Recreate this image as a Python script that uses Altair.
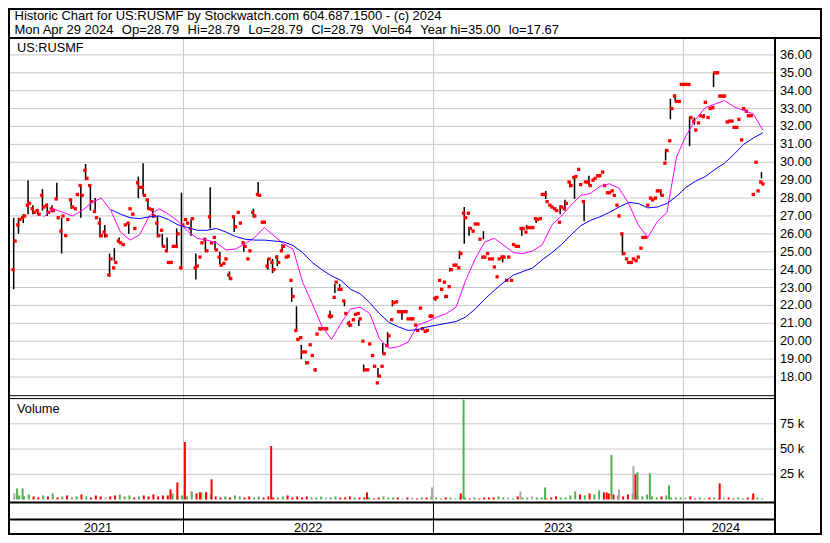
import altair as alt
import pandas as pd

# ---------------- data ----------------
START = pd.Timestamp("2021-04-30")  # first weekly bucket

# weekly high/low of the visible black range bars (None = no visible bar)
week_lo = [22.9, 26.0, 26.6, 27.1, 27.1, 27.1, 27.3, 27.0, 27.2, 27.9,
           24.9, None, 27.4, None, 26.9, 29.0, 27.3, 27.25, 25.8, 25.8,
           23.6, 24.5, 25.5, None, 26.0, None, 28.0, 28.15, 27.35, 26.9,
           25.8, 25.3, 25.1, None, 25.2, 24.0, None, 25.9, 23.45, None,
           25.0, 26.3, 25.1, 24.3, None, 23.45, 26.1, None, 25.0, None,
           26.9, 28.1, None, 24.0, 23.8, 24.2, 25.0, None, 22.2, 20.55,
           19.0, 18.7, None, 18.3, 20.6, None, 21.25, 22.7, 22.9, 21.95,
           20.8, None, 20.85, 18.3, None, None, 18.0, 19.3, 19.7, 21.95,
           None, 21.2, None, None, 20.6, None, None, 21.3, 22.25, None,
           22.4, 23.9, None, 24.6, 25.45, 25.9, None, None, 25.7, None,
           None, None, 24.4, None, None, None, 25.9, 26.25, None, 26.6,
           None, 27.95, None, None, 27.1, 27.3, 28.6, 27.95, None, 26.7,
           28.7, None, None, None, None, None, None, 24.8, None, None,
           None, None, None, None, None, 28.15, 30.1, 32.4, 33.4, None,
           None, 30.9, 32.1, None, 32.55, None, 34.2, None, None, None,
           None, None, None, None, None, 29.95, 29.1]
week_hi = [26.9, 26.9, 27.1, 29.0, 27.6, 27.4, 28.5, 27.7, 27.6, 28.85,
           26.9, None, 27.9, None, 28.75, 29.9, 28.7, 28.0, 26.9, 26.5,
           24.9, 25.2, 25.8, None, 26.6, None, 29.2, 29.95, 27.9, 27.4,
           27.0, 26.0, 25.8, None, 26.3, 28.3, None, 26.8, 24.9, None,
           25.7, 28.6, 25.6, 25.0, None, 23.9, 26.9, None, 25.5, None,
           27.4, 28.9, None, 24.6, 24.6, 24.8, 25.4, None, 23.0, 21.95,
           19.8, 18.9, None, 18.5, 20.8, None, 21.7, 23.2, 23.2, 22.3,
           21.15, None, 21.2, 18.7, None, None, 18.5, 19.9, 20.5, 22.3,
           None, 21.7, None, None, 20.7, None, None, 21.5, 22.5, None,
           22.6, 24.1, None, 25.05, 27.5, 26.4, None, None, 26.15, None,
           None, None, 24.8, None, None, None, 26.3, 26.5, None, 26.85,
           None, 28.4, None, None, 27.6, 27.9, 28.95, 29.1, None, 27.9,
           29.25, None, None, None, None, None, None, 26.0, None, None,
           None, None, None, None, None, 28.4, 30.75, 33.55, 33.8, None,
           None, 32.55, 32.5, None, 32.7, None, 35.0, None, None, None,
           None, None, None, None, None, 30.05, 29.45]
# two closing prices per week (mid-week, end of week)
close_a = [24.0, 26.5, 26.9, 27.6, 27.4, 27.3, 28.15, 27.6, 27.4, 27.95,
           26.15, 25.9, 27.9, 27.4, 28.7, 29.55, 28.7, 27.25, 26.6, 26.1,
           23.7, 24.1, 25.6, 25.4, 26.6, 27.1, 28.85, 28.6, 27.9, 27.35,
           26.6, 26.2, 25.05, 24.4, 25.3, 24.1, 26.8, 26.3, 24.1, 24.7,
           25.7, 26.95, 25.8, 24.7, 24.35, 23.7, 26.95, 27.2, 25.5, 24.6,
           27.2, 28.2, 26.65, 24.2, 24.4, 24.7, 25.05, 24.7, 23.4, 20.6,
           20.2, 19.4, 19.8, 18.4, 20.7, 20.7, 21.4, 22.45, 22.9, 22.25,
           21.0, 21.2, 21.55, 20.0, 18.4, 19.2, 17.67, 18.6, 19.75, 21.2,
           22.2, 21.65, 21.65, 21.25, 20.9, 21.85, 20.55, 21.4, 22.4, 23.4,
           23.3, 23.05, 24.25, 24.1, 27.15, 27.15, 26.15, 26.55, 24.7, 24.9,
           24.6, 23.6, 24.7, 23.4, 23.4, 25.3, 26.3, 26.1, 26.35, 26.85,
           26.85, 28.2, 27.6, 27.4, 26.65, 27.4, 28.9, 29.15, 29.6, 27.8,
           28.9, 29.0, 29.25, 29.45, 28.3, 28.4, 27.6, 26.0, 24.6, 24.4,
           24.5, 25.2, 25.8, 28.0, 28.0, 28.4, 29.95, 31.2, 33.7, 33.4,
           34.35, 34.35, 32.3, 32.2, 32.55, 32.5, 33.05, 35.0, 33.7, 32.25,
           32.3, 31.95, 31.25, 32.85, 32.6, 30.0, 28.9]
close_b = [25.6, 26.8, 27.0, 27.7, 27.2, 27.1, 27.5, 27.2, 27.3, 26.9,
           27.0, 26.8, 27.5, 28.2, 28.15, 29.1, 27.8, 26.9, 25.9, 25.9,
           24.6, 24.4, 25.5, 26.5, 27.4, 26.3, 28.6, 28.15, 27.4, 27.0,
           25.9, 25.3, 24.4, 25.3, 26.0, 26.5, 26.6, 26.85, 24.2, 25.5,
           25.05, 25.5, 25.1, 24.25, 24.6, 23.5, 26.4, 26.6, 25.3, 25.05,
           27.0, 28.15, 26.65, 24.6, 24.0, 24.4, 25.3, 24.75, 22.5, 20.1,
           19.4, 18.8, 19.2, 20.4, 20.7, 20.7, 21.4, 23.3, 22.9, 21.55,
           20.9, 21.5, 21.25, 18.4, 19.85, 18.6, 18.05, 19.3, 20.3, 22.15,
           21.65, 21.65, 21.25, 21.25, 20.6, 20.7, 20.6, 21.4, 22.45, 22.9,
           22.5, 24.0, 24.25, 24.9, 26.9, 26.3, 26.55, 25.7, 24.7, 24.6,
           24.15, 24.6, 24.7, 24.7, 25.4, 25.3, 26.3, 26.35, 26.35, 26.8,
           28.2, 27.8, 27.5, 27.3, 27.5, 27.7, 28.7, 29.2, 28.75, 28.9,
           28.7, 29.1, 29.25, 28.7, 28.3, 28.15, 27.0, 24.9, 24.4, 24.6,
           24.7, 25.8, 27.6, 27.9, 28.4, 28.15, 30.65, 33.0, 33.4, 34.35,
           34.35, 32.5, 31.8, 32.6, 33.35, 33.0, 35.0, 33.7, 33.7, 32.3,
           31.95, 32.4, 33.0, 32.6, 28.2, 28.4, 28.79]

# weekly background volume (thousands of shares)
vol_week = [6, 4, 3, 5, 3, 2, 4, 3, 6, 2,
            3, 4, 2, 3, 5, 3, 2, 4, 3, 2,
            3, 4, 5, 3, 4, 2, 3, 4, 3, 5,
            3, 4, 4, 6, 3, 4, 3, 8, 6, 7,
            7, 5, 3, 2, 3, 2, 4, 3, 2, 3,
            2, 3, 2, 3, 2, 2, 3, 4, 2, 3,
            2, 3, 2, 2, 3, 2, 2, 3, 2, 2,
            3, 2, 2, 2, 2, 1, 2, 3, 2, 2,
            2, 1, 2, 2, 1, 2, 2, 3, 2, 1,
            2, 2, 1, 2, 2, 1, 2, 1, 2, 2,
            2, 3, 2, 2, 1, 3, 2, 2, 3, 2,
            2, 1, 2, 3, 2, 2, 4, 8, 5, 4,
            6, 5, 9, 7, 6, 5, 4, 3, 5, 6,
            4, 3, 5, 3, 2, 3, 4, 2, 2, 2,
            2, 3, 1, 2, 1, 2, 2, 1, 2, 2,
            1, 2, 1, 2, 1, 2, 1]
# individual high-volume days (thousands)
spike_dates = ["2021-05-03", "2021-05-11", "2021-12-13", "2021-12-23", "2022-01-03",
               "2022-01-25", "2022-02-03", "2022-02-11", "2022-05-09", "2022-09-26",
               "2022-12-30", "2023-02-10", "2023-02-14", "2023-05-08", "2023-06-13",
               "2023-09-11", "2023-09-18", "2023-09-29", "2023-10-20", "2023-10-23",
               "2023-10-26", "2023-11-13", "2023-12-11", "2024-02-23", "2024-04-12"]
spike_vol = [11, 11, 10, 17, 57,
             7, 7, 20, 53, 7,
             12, 6, 99, 8, 12,
             7, 44, 10, 33, 25,
             27, 26, 14, 16, 6]
spike_dir = ["up", "up", "down", "down", "down",
             "down", "down", "down", "down", "down",
             "flat", "down", "up", "flat", "up",
             "down", "up", "flat", "flat", "down",
             "up", "up", "up", "down", "down"]

# moving averages, one reading every two weeks
ma_fast_start = 6
ma_fast = [26.95, 27.4, 27.2, 27.0, 27.3, 27.75, 28.0, 27.3, 26.1, 25.65,
           25.95, 27.0, 27.4, 27.1, 26.7, 26.15, 25.75, 25.65, 25.5, 25.1,
           25.15, 25.45, 25.8, 26.35, 25.9, 25.45, 25.15, 23.3, 22.1, 20.85,
           20.1, 21.0, 21.8, 21.9, 21.55, 20.15, 19.6, 19.7, 19.95, 20.9,
           21.1, 21.35, 21.55, 21.9, 23.4, 24.6, 25.55, 25.75, 25.35, 24.95,
           24.9, 25.05, 25.4, 26.5, 27.0, 27.6, 28.15, 28.25, 28.65, 28.8,
           28.55, 27.7, 26.5, 25.8, 26.7, 27.2, 30.3, 31.5, 32.4, 33.05,
           33.25, 33.45, 33.1, 32.9, 32.7, 31.8]
ma_slow_start = 20
ma_slow = [27.35, 27.1, 26.9, 26.85, 26.95, 27.0, 26.8, 26.5, 26.35, 26.2,
           26.2, 26.3, 26.1, 25.85, 25.7, 25.65, 25.65, 25.6, 25.55, 25.35,
           24.95, 24.4, 24.0, 23.65, 23.4, 22.9, 22.65, 22.15, 21.55, 21.05,
           20.8, 20.6, 20.65, 20.8, 20.9, 21.0, 21.1, 21.35, 21.8, 22.35,
           22.85, 23.3, 23.7, 23.9, 24.1, 24.55, 24.95, 25.4, 25.95, 26.45,
           26.75, 26.95, 27.2, 27.5, 27.75, 27.7, 27.45, 27.5, 27.7, 28.1,
           28.6, 28.95, 29.2, 29.6, 29.95, 30.45, 31.0, 31.35, 31.65]

price_ticks = list(range(18, 37))
vol_ticks = [25000, 50000, 75000]
vol_tick_labels = ["25 k", "50 k", "75 k"]
year_bounds = ["2022-01-01", "2023-01-01", "2024-01-01"]
year_labels = ["2021", "2022", "2023", "2024"]
year_label_dates = ["2021-08-29", "2022-07-02", "2023-07-02", "2024-03-03"]

GAP = " \u00a0\u200a"
title_1 = "Historic Chart for US:RUSMF by Stockwatch.com 604.687.1500 - (c) 2024"
title_2 = GAP.join(["Mon Apr 29 2024", "Op=28.79", "Hi=28.79", "Lo=28.79", "Cl=28.79",
                    "Vol=64", "Year hi=35.00", "lo=17.67"])
panel_label = "US:RUSMF"
volume_label = "Volume"

# ---------------- tables ----------------
def wdate(i, off=0):
    return (START + pd.Timedelta(days=7 * i + off)).strftime("%Y-%m-%d")

n = len(close_b)
bars = pd.DataFrame({"date": [wdate(i, -2) for i in range(n)],
                     "lo": week_lo, "hi": week_hi}).dropna()
closes = pd.DataFrame({"date": [wdate(i, -3) for i in range(n)] + [wdate(i) for i in range(n)],
                       "c": close_a + close_b})
dirs = ["flat"] + ["up" if close_b[i] > close_b[i - 1] else
                   ("down" if close_b[i] < close_b[i - 1] else "flat") for i in range(1, n)]
vol_bg = pd.DataFrame({"date": [wdate(i, -1) for i in range(n)],
                       "v": [v * 1000 for v in vol_week], "dir": dirs})
vol_sp = pd.DataFrame({"date": spike_dates, "v": [v * 1000 for v in spike_vol], "dir": spike_dir})
fast = pd.DataFrame({"date": [wdate(ma_fast_start + 2 * k) for k in range(len(ma_fast))], "m": ma_fast})
slow = pd.DataFrame({"date": [wdate(ma_slow_start + 2 * k) for k in range(len(ma_slow))], "m": ma_slow})
pt = pd.DataFrame({"p": price_ticks, "lab": [f"{p:.2f}" for p in price_ticks]})
vt = pd.DataFrame({"v": vol_ticks, "lab": vol_tick_labels})
yb = pd.DataFrame({"d": year_bounds})
yl = pd.DataFrame({"d": year_label_dates, "lab": year_labels})
one = pd.DataFrame({"k": [0]})

# ---------------- layout ----------------
W, H = 814, 527
PLOT_R = 766
HEADER_B = 30
PB1, PB2 = 387.7, 390.6
VOL_B = 494.5
MID = 511.5
BOT = 526
FONT = "Liberation Sans"
FS = 12.75
GRID = "#c8c8c8"

X = alt.Scale(domain=[alt.DateTime(year=2021, month=4, date=27, utc=True),
                      alt.DateTime(year=2024, month=5, date=5, utc=True)],
              range=[0, PLOT_R])
PY = alt.Scale(domain=[17, 37], range=[386.9, 29.0], nice=False, zero=False)
VY = alt.Scale(domain=[-2500, 100000], range=[494.0, PB2], nice=False, zero=False)
VCOL = alt.Scale(domain=["up", "down", "flat"], range=["#4cb04c", "#ff0000", "#a8a8a8"])

def xd(f="date"):
    return alt.X(f"{f}:T", scale=X, axis=None)

layers = []
# gridlines
layers.append(alt.Chart(pt).mark_rule(color=GRID, strokeWidth=1).encode(
    y=alt.Y("p:Q", scale=PY, axis=None), x=alt.value(0), x2=alt.value(PLOT_R)))
layers.append(alt.Chart(vt).mark_rule(color=GRID, strokeWidth=1).encode(
    y=alt.Y("v:Q", scale=VY, axis=None), x=alt.value(0), x2=alt.value(PLOT_R)))
layers.append(alt.Chart(yb).mark_rule(color=GRID, strokeWidth=1).encode(
    x=xd("d"), y=alt.value(HEADER_B), y2=alt.value(VOL_B)))
# volume
layers.append(alt.Chart(vol_bg).mark_bar(size=2).encode(
    x=xd(), y=alt.Y("v:Q", scale=VY, axis=None), y2=alt.value(VOL_B - 1),
    color=alt.Color("dir:N", scale=VCOL, legend=None)))
layers.append(alt.Chart(vol_sp).mark_bar(size=2).encode(
    x=xd(), y=alt.Y("v:Q", scale=VY, axis=None), y2=alt.value(VOL_B - 1),
    color=alt.Color("dir:N", scale=VCOL, legend=None)))
# price bars and closes
layers.append(alt.Chart(bars).mark_rule(color="black", strokeWidth=1.5).encode(
    x=xd(), y=alt.Y("lo:Q", scale=PY, axis=None), y2=alt.Y2("hi:Q")))
layers.append(alt.Chart(closes).mark_square(size=11, color="#ff0000", opacity=1).encode(
    x=xd(), y=alt.Y("c:Q", scale=PY, axis=None)))
# moving averages
layers.append(alt.Chart(fast).mark_line(color="#ff00ff", strokeWidth=1).encode(
    x=xd(), y=alt.Y("m:Q", scale=PY, axis=None)))
layers.append(alt.Chart(slow).mark_line(color="#0000ff", strokeWidth=1).encode(
    x=xd(), y=alt.Y("m:Q", scale=PY, axis=None)))

# frames
def hline(y, x1, x2, w):
    return alt.Chart(one).mark_rule(color="black", strokeWidth=w).encode(
        x=alt.value(x1), x2=alt.value(x2), y=alt.value(y))

def vline(x, y1, y2, w):
    return alt.Chart(one).mark_rule(color="black", strokeWidth=w).encode(
        x=alt.value(x), y=alt.value(y1), y2=alt.value(y2))

layers.append(alt.Chart(one).mark_rect(fillOpacity=0, stroke="black", strokeWidth=2).encode(
    x=alt.value(1), x2=alt.value(W - 1), y=alt.value(1), y2=alt.value(BOT)))
layers.append(hline(HEADER_B, 0, W, 2))
layers.append(vline(PLOT_R + 1, HEADER_B, BOT, 2))
layers.append(hline(PB1, 0, PLOT_R, 1))
layers.append(hline(PB2, 0, PLOT_R, 1))
layers.append(hline(VOL_B, 0, PLOT_R, 2))
layers.append(hline(MID, 0, PLOT_R, 2))
layers.append(alt.Chart(yb).mark_rule(color="black", strokeWidth=1).encode(
    x=xd("d"), y=alt.value(VOL_B), y2=alt.value(BOT)))

# texts
def txt(s, x, y, size=FS, baseline="alphabetic"):
    return alt.Chart(pd.DataFrame({"t": [s]})).mark_text(
        align="left", baseline=baseline, font=FONT, fontSize=size, color="black").encode(
        text="t:N", x=alt.value(x), y=alt.value(y))

layers.append(txt(title_1, 6.5, 11.8, 13))
layers.append(txt(title_2, 6.5, 26.1, 13))
layers.append(txt(panel_label, 9, 44.3))
layers.append(txt(volume_label, 9, 405.4))
layers.append(alt.Chart(pt).mark_text(align="left", baseline="middle", font=FONT,
                                      fontSize=FS, color="black").encode(
    y=alt.Y("p:Q", scale=PY, axis=None), x=alt.value(772), text="lab:N"))
layers.append(alt.Chart(vt).mark_text(align="left", baseline="middle", font=FONT,
                                      fontSize=FS, color="black").encode(
    y=alt.Y("v:Q", scale=VY, axis=None), x=alt.value(772), text="lab:N"))
layers.append(alt.Chart(yl).mark_text(align="center", baseline="middle", font=FONT,
                                      fontSize=FS, color="black").encode(
    x=xd("d"), y=alt.value(519.5), text="lab:N"))

chart = alt.layer(*layers).resolve_scale(y="independent").properties(
    width=W, height=H, padding=0,
    autosize=alt.AutoSizeParams(type="none")).configure_view(stroke=None)

chart.save("out.html", embed_options={"renderer": "svg", "actions": False})
